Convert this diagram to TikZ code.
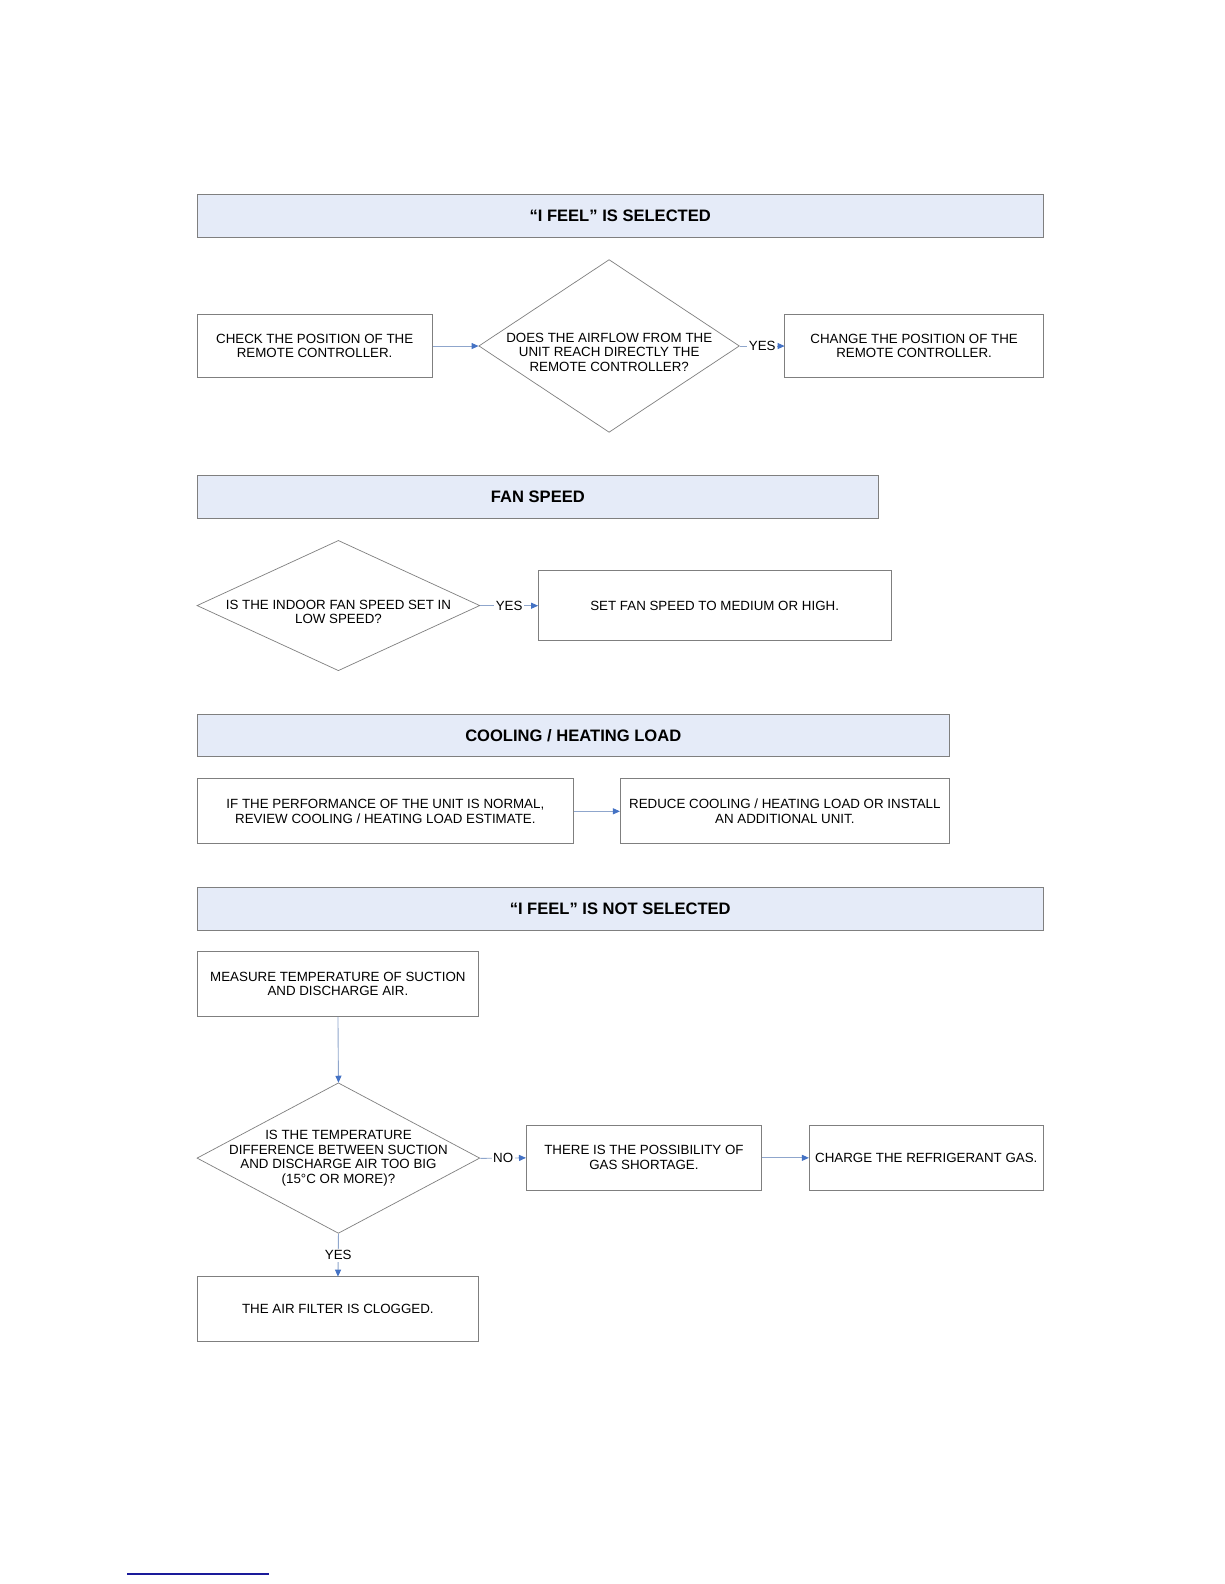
\documentclass[tikz,border=0pt]{standalone}
\usepackage{fontspec}
\setmainfont{Liberation Sans}
\usetikzlibrary{shapes.geometric,arrows.meta}
\definecolor{hdrfill}{HTML}{E5EBF8}
\definecolor{edgegray}{HTML}{7F7F7F}
\definecolor{conn}{HTML}{8FA6CC}
\definecolor{tipblue}{HTML}{4472C4}
\definecolor{footnavy}{HTML}{1A1A9A}
\begin{document}
\begin{tikzpicture}[x=1pt,y=-1pt,
  hdr/.style={draw=edgegray, fill=hdrfill, line width=0.8pt, inner sep=0pt,
    font=\bfseries\fontsize{16.4}{19}\selectfont},
  box/.style={draw=edgegray, line width=0.8pt, inner sep=0pt, align=center,
    font=\fontsize{13.2}{14.5}\selectfont},
  dia/.style={draw=edgegray, line width=0.7pt, diamond, inner sep=0pt},
  txt/.style={align=center, inner sep=0pt, font=\fontsize{13.2}{14.5}\selectfont},
  arr/.style={draw=conn, line width=0.9pt, -{Triangle[length=7pt,width=6pt,color=tipblue,fill=tipblue]}},
  lbl/.style={fill=white, inner sep=1.5pt, font=\fontsize{13.2}{14}\selectfont}
]
\fill[white] (0,0) rectangle (1224,1584);
\useasboundingbox (0,0) rectangle (1224,1584);

\begin{scope}[scale=1.0101, every node/.append style={transform shape}]
% Section 1
\node[hdr, minimum width=838pt, minimum height=43pt] (h1) at (614,213.5) {“I FEEL” IS SELECTED};
\node[box, minimum width=233pt, minimum height=63pt] (check) at (311.5,342.5) {CHECK THE POSITION OF THE\\REMOTE CONTROLLER.};
\node[dia, minimum width=258pt, minimum height=171pt] (d1) at (603,342.5) {};
\node[txt] (d1t) at ([yshift=-6pt]d1.center) {DOES THE AIRFLOW FROM THE\\UNIT REACH DIRECTLY THE\\REMOTE CONTROLLER?};
\node[box, minimum width=256pt, minimum height=63pt] (change) at (905,342.5) {CHANGE THE POSITION OF THE\\REMOTE CONTROLLER.};
\draw[arr] (check.east) -- (d1.west);
\draw[arr] (d1.east) -- node[lbl] {YES} (change.west);

% Section 2
\node[hdr, minimum width=675pt, minimum height=42pt] (h2) at (532.5,492) {FAN SPEED};
\node[dia, minimum width=280pt, minimum height=129pt] (d2) at (335,599.5) {};
\node[txt] (d2t) at ([yshift=-6pt]d2.center) {IS THE INDOOR FAN SPEED SET IN\\LOW SPEED?};
\node[box, minimum width=349pt, minimum height=69pt] (fan) at (707.5,599.5) {SET FAN SPEED TO MEDIUM OR HIGH.};
\draw[arr] (d2.east) -- node[lbl] {YES} (fan.west);

% Section 3
\node[hdr, minimum width=745pt, minimum height=42pt] (h3) at (567.5,728) {COOLING / HEATING LOAD};
\node[box, minimum width=373pt, minimum height=64pt] (cool1) at (381.5,803) {IF THE PERFORMANCE OF THE UNIT IS NORMAL,\\REVIEW COOLING / HEATING LOAD ESTIMATE.};
\node[box, minimum width=326pt, minimum height=64pt] (cool2) at (777,803) {REDUCE COOLING / HEATING LOAD OR INSTALL\\AN ADDITIONAL UNIT.};
\draw[arr] (cool1.east) -- (cool2.west);

% Section 4
\node[hdr, minimum width=838pt, minimum height=42pt] (h4) at (614,900) {“I FEEL” IS NOT SELECTED};
\node[box, minimum width=279pt, minimum height=64pt] (measure) at (334.5,974) {MEASURE TEMPERATURE OF SUCTION\\AND DISCHARGE AIR.};
\node[dia, minimum width=280pt, minimum height=149pt] (d3) at (335,1146.5) {};
\node[txt] (d3t) at (d3.center) {IS THE TEMPERATURE\\DIFFERENCE BETWEEN SUCTION\\AND DISCHARGE AIR TOO BIG\\(15°C OR MORE)?};
\node[box, minimum width=233pt, minimum height=64pt] (gas) at (637.5,1146) {THERE IS THE POSSIBILITY OF\\GAS SHORTAGE.};
\node[box, minimum width=232pt, minimum height=64pt] (charge) at (917,1146) {CHARGE THE REFRIGERANT GAS.};
\node[box, minimum width=279pt, minimum height=64pt] (filter) at (334.5,1296) {THE AIR FILTER IS CLOGGED.};
\draw[arr] (measure.south) -- (d3.north);
\draw[arr] (d3.east) -- node[lbl] {NO} (gas.west);
\draw[arr] (gas.east) -- (charge.west);
\draw[arr] (d3.south) -- node[lbl] {YES} (filter.north);
\end{scope}

% footnote rule
\draw[footnavy, line width=1.3pt] (127,1574) -- (269,1574);
\end{tikzpicture}
\end{document}
